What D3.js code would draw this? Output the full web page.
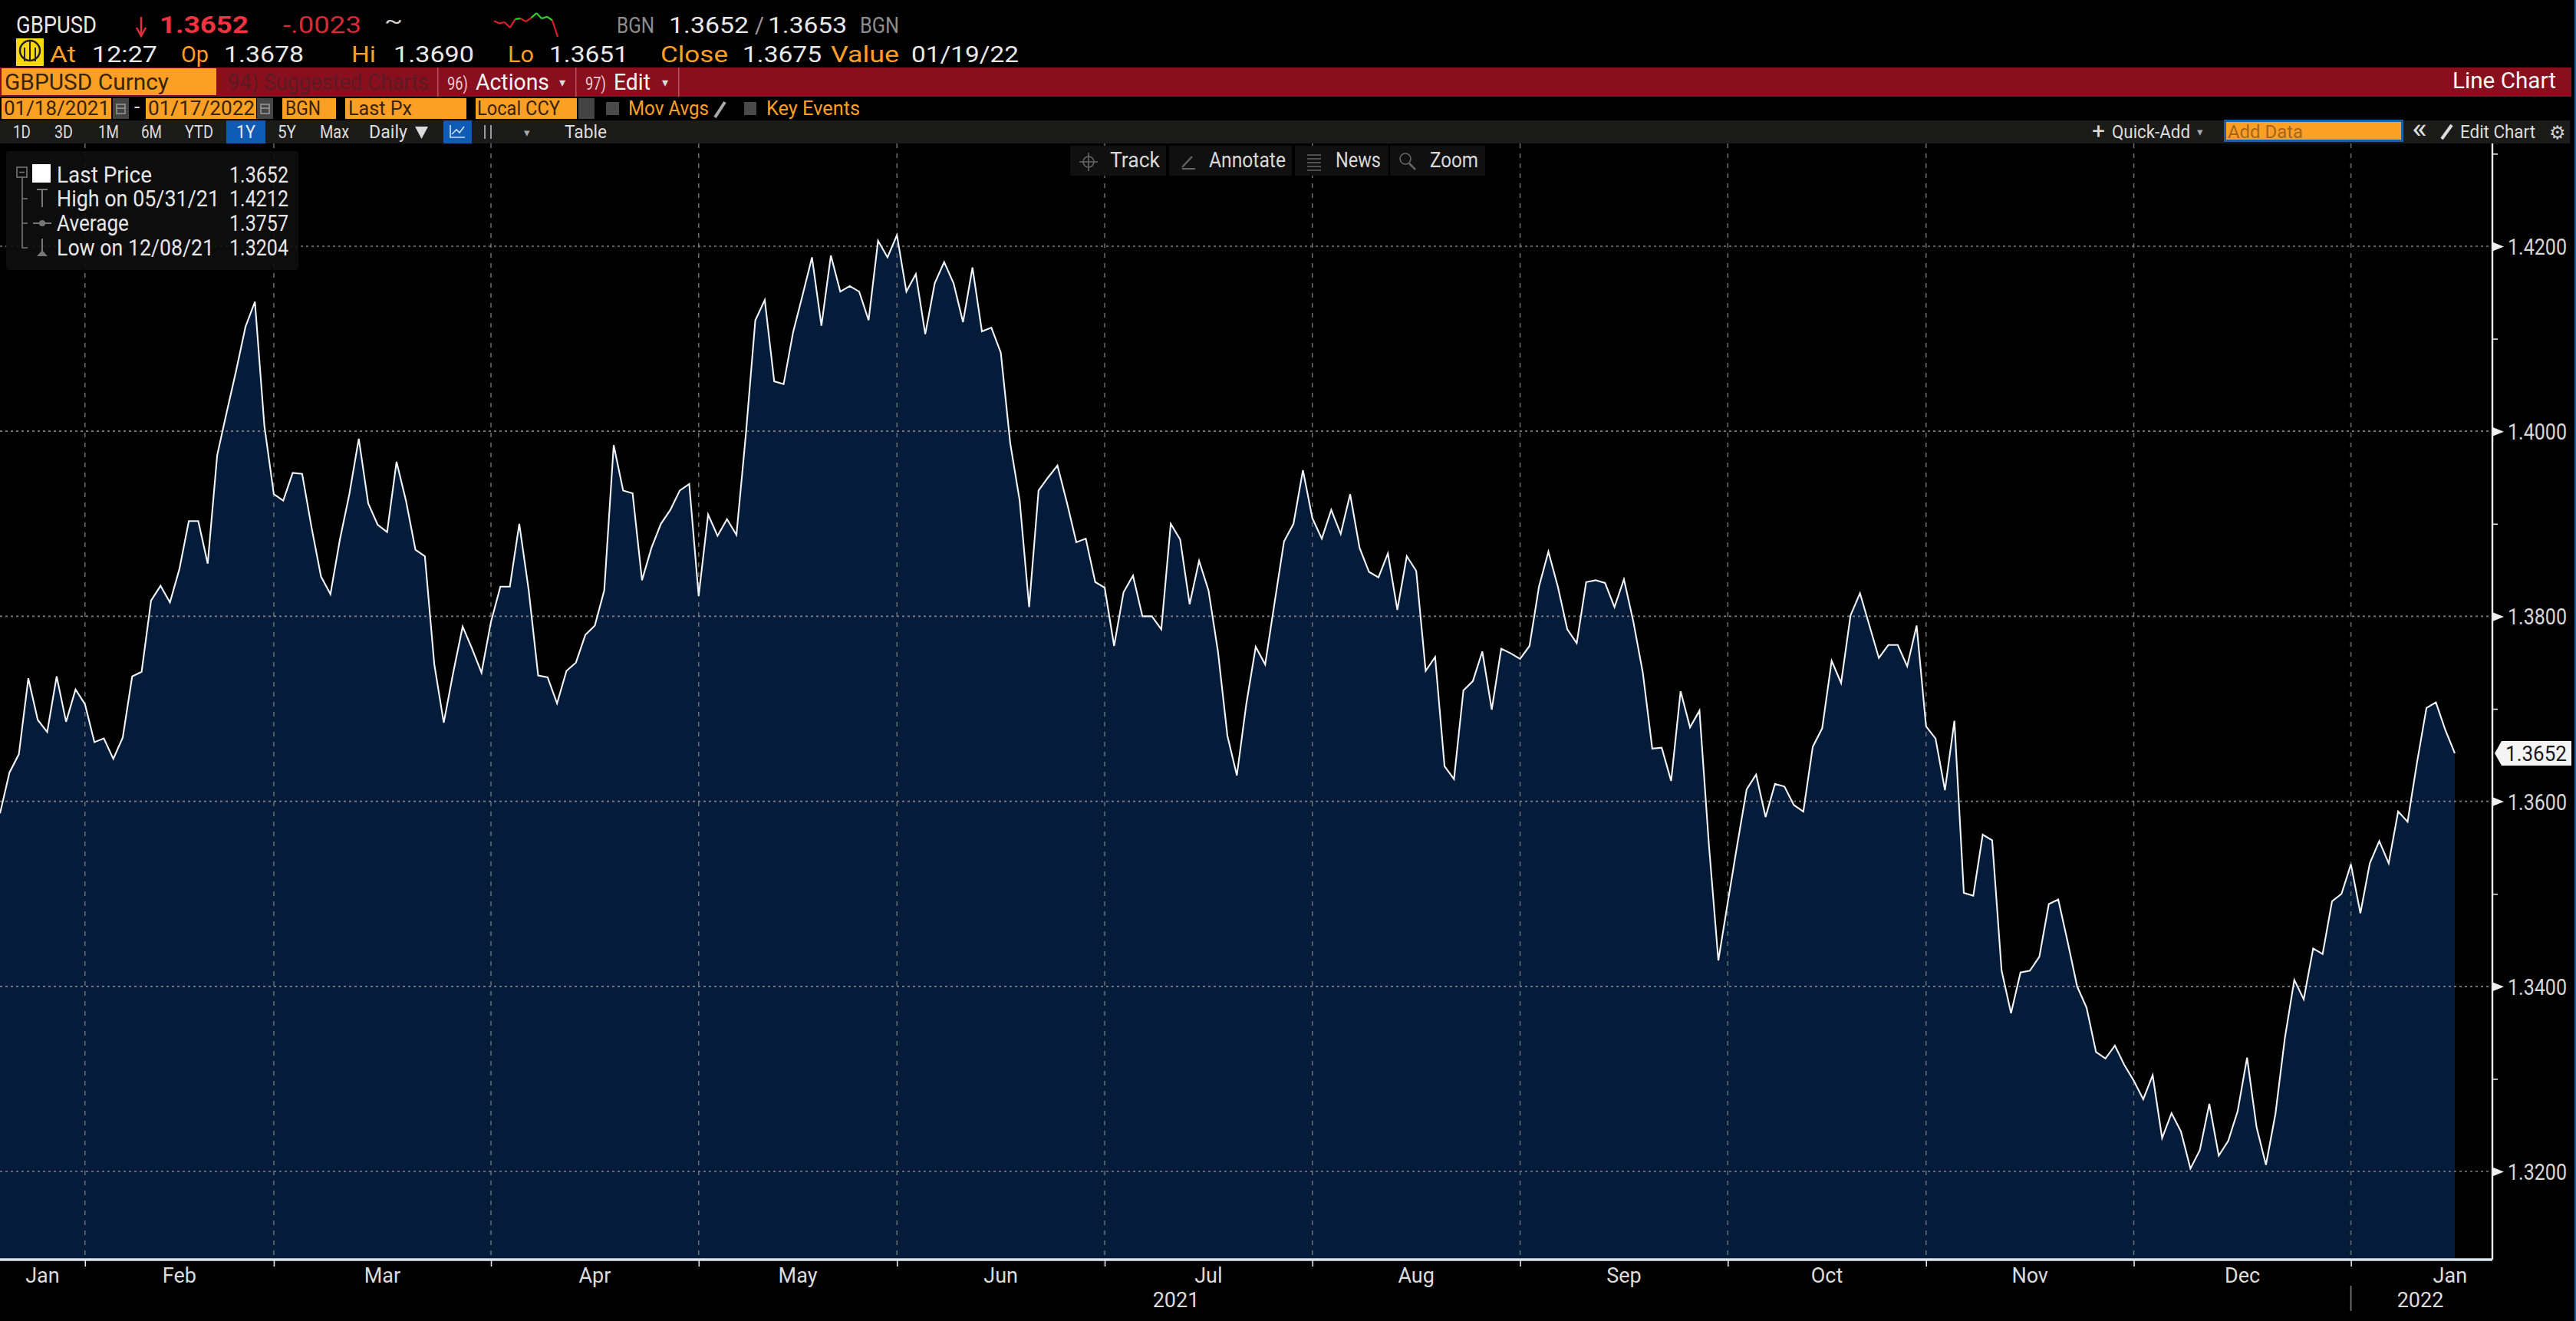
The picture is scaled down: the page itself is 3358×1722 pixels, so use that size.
<!DOCTYPE html>
<html>
<head>
<meta charset="utf-8">
<title>GBPUSD Line Chart</title>
<script src="https://cdn.jsdelivr.net/npm/d3@7"></script>
<style>
body { margin: 0; background: #000; overflow: hidden; }
text { font-family: "Liberation Sans Narrow", "Roboto", "Liberation Sans", sans-serif; }
</style>
</head>
<body>
<script>
// GBPUSD last price, one value per weekday from 01/19/2021 to 01/18/2022
var lastPrice = [
1.3587,1.3631,1.3651,1.3733,1.3688,1.3675,1.3735,1.3686,1.3721,1.3705,
1.3664,1.3668,1.3646,1.3669,1.3735,1.3740,1.3817,1.3833,1.3815,1.3851,
1.3903,1.3903,1.3857,1.3974,1.4020,1.4065,1.4113,1.4140,1.4006,1.3932,
1.3925,1.3955,1.3954,1.3896,1.3843,1.3824,1.3883,1.3932,1.3992,1.3922,
1.3899,1.3891,1.3967,1.3925,1.3872,1.3865,1.3748,1.3685,1.3739,1.3789,
1.3765,1.3739,1.3794,1.3832,1.3832,1.3900,1.3828,1.3736,1.3734,1.3706,
1.3741,1.3750,1.3780,1.3790,1.3828,1.3985,1.3936,1.3933,1.3839,1.3874,
1.3900,1.3915,1.3936,1.3943,1.3822,1.3910,1.3887,1.3905,1.3888,1.3997,
1.4120,1.4142,1.4054,1.4051,1.4107,1.4147,1.4188,1.4114,1.4190,1.4151,
1.4157,1.4151,1.4120,1.4206,1.4188,1.4212,1.4151,1.4170,1.4105,1.4160,
1.4183,1.4160,1.4118,1.4177,1.4108,1.4112,1.4085,1.3987,1.3925,1.3810,
1.3936,1.3950,1.3963,1.3923,1.3880,1.3884,1.3837,1.3831,1.3768,1.3826,
1.3844,1.3800,1.3800,1.3786,1.3900,1.3883,1.3813,1.3860,1.3828,1.3762,
1.3671,1.3628,1.3705,1.3767,1.3748,1.3815,1.3881,1.3900,1.3958,1.3906,
1.3884,1.3915,1.3889,1.3932,1.3874,1.3848,1.3842,1.3868,1.3807,1.3865,
1.3849,1.3741,1.3756,1.3638,1.3624,1.3720,1.3730,1.3762,1.3699,1.3765,
1.3760,1.3754,1.3768,1.3832,1.3870,1.3832,1.3786,1.3771,1.3837,1.3839,
1.3836,1.3810,1.3840,1.3794,1.3739,1.3657,1.3658,1.3622,1.3719,1.3680,
1.3698,1.3553,1.3428,1.3491,1.3553,1.3613,1.3629,1.3583,1.3619,1.3616,
1.3596,1.3589,1.3659,1.3679,1.3752,1.3728,1.3801,1.3825,1.3790,1.3755,
1.3769,1.3769,1.3746,1.3790,1.3681,1.3668,1.3612,1.3687,1.3501,1.3498,
1.3564,1.3558,1.3417,1.3371,1.3415,1.3417,1.3432,1.3489,1.3494,1.3448,
1.3400,1.3377,1.3329,1.3322,1.3336,1.3315,1.3298,1.3278,1.3304,1.3236,
1.3263,1.3243,1.3203,1.3223,1.3273,1.3217,1.3233,1.3265,1.3323,1.3248,
1.3207,1.3262,1.3344,1.3407,1.3386,1.3441,1.3435,1.3492,1.3500,1.3532,
1.3479,1.3533,1.3557,1.3533,1.3589,1.3578,1.3642,1.3701,1.3707,1.3677,
1.3652
];
// small intraday chart next to the quote
var intraday = [1.3677,1.3673,1.3675,1.3666,1.3680,1.3681,1.3676,1.3682,1.3690,1.3681,1.3684,1.3678,1.3651];
var monthNames = ["Jan","Feb","Mar","Apr","May","Jun","Jul","Aug","Sep","Oct","Nov","Dec","Jan"];
var yearNames = ["2021","2022"];
var majorTicks = [1.32,1.34,1.36,1.38,1.40,1.42];
var minorTicks = [1.33,1.35,1.37,1.39,1.41,1.43];
var legendNames = ["Last Price","High on 05/31/21","Average","Low on 12/08/21"];
var legendValues = ["1.3652","1.4212","1.3757","1.3204"];

var width = 3358, height = 1722;
var plotTop = 187, plotRight = 3249, plotBottom = 1642;
var orange = "#fb9f25", red = "#8a0f1e", barGrey = "#1b1b1a";

var svg = d3.select("body").append("svg").attr("width", width).attr("height", height).style("display", "block");
svg.append("rect").attr("width", width).attr("height", height).attr("fill", "#000");

// weekdays, run on to 02/01/2022 so the last month label can be centred
var days = d3.timeDay.range(new Date(2021, 0, 19), new Date(2022, 1, 2))
  .filter(function (d) { return d.getDay() != 0 && d.getDay() != 6; });
var monthStarts = [];
days.forEach(function (d, i) {
  if (i > 0 && d.getMonth() != days[i - 1].getMonth()) monthStarts.push(i);
});

var x = d3.scaleLinear().domain([0, lastPrice.length - 1]).range([0, 3200]);
var y = d3.scaleLinear().domain([1.32, 1.42]).range([1527, 321]);

function label(px, py, s, fill, size, px2, anchor) {
  var t = svg.append("text").attr("x", px).attr("y", py).attr("fill", fill).attr("font-size", size).text(s);
  if (px2) t.attr("textLength", px2 - px).attr("lengthAdjust", "spacingAndGlyphs");
  if (anchor) t.attr("text-anchor", anchor);
  return t;
}
function box(px, py, w, h, fill) {
  return svg.append("rect").attr("x", px).attr("y", py).attr("width", w).attr("height", h).attr("fill", fill);
}
function shape(d, fill, stroke, sw) {
  return svg.append("path").attr("d", d).attr("fill", fill || "none").attr("stroke", stroke || "none").attr("stroke-width", sw || 1);
}

// area under the price
var area = d3.area().x(function (d, i) { return x(i); }).y0(plotBottom).y1(function (d) { return y(d); });
svg.append("path").datum(lastPrice).attr("d", area).attr("fill", "#041c39");

// grid
var vTicks = monthStarts.filter(function (i) { return i < lastPrice.length; });
svg.selectAll(".vgrid").data(vTicks).enter().append("line").attr("class", "vgrid")
  .attr("x1", function (d) { return x(d); }).attr("x2", function (d) { return x(d); })
  .attr("y1", plotTop).attr("y2", plotBottom)
  .attr("stroke", "#6a7076").attr("stroke-width", 1.5).attr("stroke-dasharray", "6,7");
svg.selectAll(".hgrid").data(majorTicks).enter().append("line").attr("class", "hgrid")
  .attr("x1", 0).attr("x2", plotRight)
  .attr("y1", function (d) { return y(d); }).attr("y2", function (d) { return y(d); })
  .attr("stroke", "#7c8086").attr("stroke-width", 1.7).attr("stroke-dasharray", "3,4");

// price line
var line = d3.line().x(function (d, i) { return x(i); }).y(function (d) { return y(d); });
svg.append("path").datum(lastPrice).attr("d", line).attr("fill", "none").attr("stroke", "#f2f4f7").attr("stroke-width", 2.1);

// bottom axis
var xAxis = d3.axisBottom(x).tickValues(vTicks).tickSize(9).tickFormat("");
var gx = svg.append("g").attr("transform", "translate(0," + plotBottom + ")").call(xAxis);
gx.select(".domain").remove();
gx.selectAll("line").attr("stroke", "#e6e6e6").attr("stroke-width", 1.6);
svg.append("line").attr("x1", 0).attr("x2", plotRight).attr("y1", plotBottom).attr("y2", plotBottom)
  .attr("stroke", "#dfe5ee").attr("stroke-width", 3.5);

var edges = [0].concat(monthStarts);
monthNames.forEach(function (m, i) {
  label(x((edges[i] + edges[i + 1]) / 2), 1672, m, "#dcdcdc", 27, null, "middle");
});
label(1533, 1704, yearNames[0], "#dcdcdc", 27, null, "middle");
label(3155, 1704, yearNames[1], "#dcdcdc", 27, null, "middle");
svg.append("line").attr("x1", x(monthStarts[11])).attr("x2", x(monthStarts[11])).attr("y1", 1676).attr("y2", 1709)
  .attr("stroke", "#888").attr("stroke-width", 1.5);

// right axis
svg.append("line").attr("x1", plotRight).attr("x2", plotRight).attr("y1", plotTop).attr("y2", plotBottom)
  .attr("stroke", "#ededed").attr("stroke-width", 2.4);
var yAxis = d3.axisRight(y).tickValues(majorTicks).tickSize(0).tickPadding(20).tickFormat(d3.format(".4f"));
var gy = svg.append("g").attr("transform", "translate(" + plotRight + ",0)").call(yAxis);
gy.select(".domain").remove();
gy.selectAll("text").attr("fill", "#d6d6d6").attr("font-size", 29)
  .style("font-family", '"Liberation Sans Narrow", Roboto, sans-serif').attr("dy", "0.36em")
  .attr("textLength", 77).attr("lengthAdjust", "spacingAndGlyphs");
gy.selectAll(".tick").append("path").attr("d", "M0,-6L15,0L0,6Z").attr("fill", "#efefef");
var yMinor = d3.axisRight(y).tickValues(minorTicks).tickSize(7).tickFormat("");
var gm = svg.append("g").attr("transform", "translate(" + plotRight + ",0)").call(yMinor);
gm.select(".domain").remove();
gm.selectAll("line").attr("stroke", "#e6e6e6").attr("stroke-width", 1.6);

// last price tag
var tagY = y(lastPrice[lastPrice.length - 1]);
svg.append("path").attr("d", "M3252," + tagY + "L3261," + (tagY - 16) + "H3352V" + (tagY + 16) + "H3261Z").attr("fill", "#f4f4f4");
label(3266, tagY + 10, "1.3652", "#1a1a1a", 28, 3346);

// quote rows
label(21, 43, "GBPUSD", "#e8e8e8", 31, 126);
shape("M184,22V44", null, "#e0323c", 2.5);
shape("M178,36L184,47L190,36", null, "#e0323c", 2.5);
label(208, 43, "1.3652", "#ef3340", 32, 324).attr("font-weight", "bold");
label(369, 43, "-.0023", "#d42a38", 31, 471);
label(501, 36, "~", "#d8d8d8", 26, 525);

var sparkX = d3.scaleLinear().domain([0, intraday.length - 1]).range([644, 727]);
var sparkY = d3.scaleLinear().domain([1.3651, 1.3690]).range([48, 17]);
intraday.slice(1).forEach(function (v, i) {
  svg.append("line").attr("x1", sparkX(i)).attr("x2", sparkX(i + 1))
    .attr("y1", sparkY(intraday[i])).attr("y2", sparkY(v))
    .attr("stroke", Math.min(v, intraday[i]) >= 1.3678 ? "#2fd12f" : "#d8202c").attr("stroke-width", 2.2);
});

label(804, 43, "BGN", "#8c8c8c", 30, 853);
label(872, 43, "1.3652", "#e8e8e8", 30, 976);
label(984, 43, "/", "#9a9a9a", 30, 996);
label(1001, 43, "1.3653", "#e8e8e8", 30, 1104);
label(1121, 43, "BGN", "#8c8c8c", 30, 1172);

box(21, 50, 36, 36, "#f5d90a");
svg.append("circle").attr("cx", 39).attr("cy", 66).attr("r", 13).attr("fill", "none").attr("stroke", "#222").attr("stroke-width", 2.5);
shape("M39,53V80M32,80V62M46,80V62", null, "#222", 2);

label(65, 81, "At", orange, 30, 99);
label(120, 81, "12:27", "#e8e8e8", 30, 205);
label(236, 81, "Op", orange, 30, 272);
label(292, 81, "1.3678", "#e8e8e8", 30, 396);
label(458, 81, "Hi", orange, 30, 490);
label(513, 81, "1.3690", "#e8e8e8", 30, 618);
label(662, 81, "Lo", orange, 30, 696);
label(716, 81, "1.3651", "#e8e8e8", 30, 819);
label(861, 81, "Close", orange, 30, 949);
label(968, 81, "1.3675", "#e8e8e8", 30, 1071);
label(1083, 81, "Value", orange, 30, 1172);
label(1188, 81, "01/19/22", "#e8e8e8", 30, 1328);

// red menu bar
box(0, 88, 3352, 38, red);
box(2, 89, 280, 35, orange);
label(6, 117, "GBPUSD Curncy", "#3a2408", 30, 220);
label(297, 117, "94) Suggested Charts", "#5c1a22", 30, 559);
[570, 750, 884].forEach(function (px) { box(px, 88, 1.5, 38, "#b9525c"); });
label(583, 117, "96)", "#e8c8cc", 24, 610);
label(620, 117, "Actions", "#f2f2f2", 30, 716);
label(729, 113, "▾", "#ddd", 16);
label(763, 117, "97)", "#e8c8cc", 24, 790);
label(800, 117, "Edit", "#f2f2f2", 30, 848);
label(863, 113, "▾", "#ddd", 16);
label(3197, 115, "Line Chart", "#f5f5f5", 30, 3332);

// date / source row
box(2, 128, 143, 27, orange); box(147, 128, 21, 27, "#444");
shape("M152,136H163V148H152ZM152,141H163", null, "#999", 1.5);
label(175, 148, "-", "#ddd", 26);
box(190, 128, 144, 27, orange); box(335, 128, 21, 27, "#444");
shape("M340,136H351V148H340ZM340,141H351", null, "#999", 1.5);
box(368, 128, 70, 27, orange);
box(450, 128, 158, 27, orange);
box(620, 128, 132, 27, orange); box(754, 128, 21, 27, "#444");
label(5, 150, "01/18/2021", "#3a2408", 26, 143);
label(193, 150, "01/17/2022", "#3a2408", 26, 332);
label(372, 150, "BGN", "#3a2408", 26, 418);
label(454, 150, "Last Px", "#3a2408", 26, 537);
label(622, 150, "Local CCY", "#3a2408", 26, 730);
box(790, 133, 17, 17, "#4a4a4a");
label(819, 150, "Mov Avgs", orange, 26, 924);
shape("M932,153L945,133", null, "#aaa", 4);
box(970, 133, 16, 17, "#4a4a4a");
label(999, 150, "Key Events", orange, 26, 1121);

// range buttons row
box(0, 157, 3350, 30, barGrey);
box(295, 157, 51, 30, "#0f5bb5");
box(578, 157, 37, 30, "#0f5bb5");
label(17, 180, "1D", "#dcdcdc", 24, 40);
label(71, 180, "3D", "#dcdcdc", 24, 95);
label(128, 180, "1M", "#dcdcdc", 24, 155);
label(184, 180, "6M", "#dcdcdc", 24, 211);
label(241, 180, "YTD", "#dcdcdc", 24, 278);
label(308, 180, "1Y", "#e8e8e8", 24, 333);
label(362, 180, "5Y", "#dcdcdc", 24, 386);
label(417, 180, "Max", "#dcdcdc", 24, 455);
label(481, 180, "Daily", "#dcdcdc", 24, 531);
shape("M541,165H558L549.5,181Z", "#dcdcdc");
shape("M587,163V179H606M589,175L595,169L599,173L605,165", null, "#cfe0f5", 1.6);
shape("M632,163V181M640,163V181", null, "#999", 2);
label(683, 178, "▾", "#aaa", 15);
label(736, 180, "Table", "#dcdcdc", 24, 791);
label(2727, 181, "+", "#dcdcdc", 30);
label(2753, 180, "Quick-Add", "#dcdcdc", 24, 2855);
label(2864, 177, "▾", "#aaa", 15);
box(2899, 156, 234, 29, "#1c5fa8");
box(2902, 159, 228, 23, orange);
label(2904, 180, "Add Data", "#a8651a", 24, 3002);
label(3144, 180, "«", "#dcdcdc", 36, 3164);
shape("M3183,181L3196,163", null, "#dcdcdc", 4);
label(3207, 180, "Edit Chart", "#dcdcdc", 24, 3305);
label(3323, 181, "⚙", "#cfcfcf", 24).style("font-family", '"DejaVu Sans", sans-serif');

// Track / Annotate / News / Zoom toolbar
box(1395, 190, 125, 39, "#101010");
box(1524, 190, 160, 39, "#101010");
box(1688, 190, 122, 39, "#101010");
box(1812, 190, 124, 39, "#101010");
label(1447, 218, "Track", "#d8d8d8", 27, 1512);
label(1576, 218, "Annotate", "#d8d8d8", 27, 1676);
label(1741, 218, "News", "#d8d8d8", 27, 1800);
label(1864, 218, "Zoom", "#d8d8d8", 27, 1927);
svg.append("circle").attr("cx", 1419).attr("cy", 211).attr("r", 7).attr("fill", "none").attr("stroke", "#666").attr("stroke-width", 1.6);
shape("M1419,199V223M1407,211H1431", null, "#666", 1.6);
shape("M1541,218L1554,204M1541,220H1558", null, "#666", 2.2);
shape("M1704,202H1722M1704,207H1722M1704,212H1722M1704,217H1722M1704,222H1722", null, "#666", 1.6);
svg.append("circle").attr("cx", 1832).attr("cy", 207).attr("r", 7).attr("fill", "none").attr("stroke", "#666").attr("stroke-width", 1.6);
shape("M1837,213L1845,221", null, "#666", 2.5);

// legend
box(8, 197, 381, 155, "#0e0e0e").attr("rx", 4).attr("opacity", 0.9);
var legendBase = [238, 269, 301, 333];
var legendEnds = [198, 286, 168, 279];
legendNames.forEach(function (name, i) {
  label(74, legendBase[i], name, "#e6e6e6", 29, legendEnds[i]);
  label(299, legendBase[i], legendValues[i], "#e6e6e6", 29, 376);
});
box(42, 214, 24, 24, "#fff");
svg.append("rect").attr("x", 22).attr("y", 218).attr("width", 13).attr("height", 13).attr("fill", "none").attr("stroke", "#777").attr("stroke-width", 1.6);
shape("M25,224.5H32M29,231V323H36M29,259H36M29,291H36", null, "#777", 1.6);
shape("M48,247H62M55,247V270", null, "#777", 2);
shape("M43,291H67", null, "#777", 2);
svg.append("circle").attr("cx", 55).attr("cy", 291).attr("r", 4).attr("fill", "#777");
shape("M55,311V333", null, "#777", 2);
shape("M48,334H62L55,326Z", "#777");

// thin edge line on the right of the window
box(3356, 0, 2, height, "#1c5fa8");
</script>
</body>
</html>
